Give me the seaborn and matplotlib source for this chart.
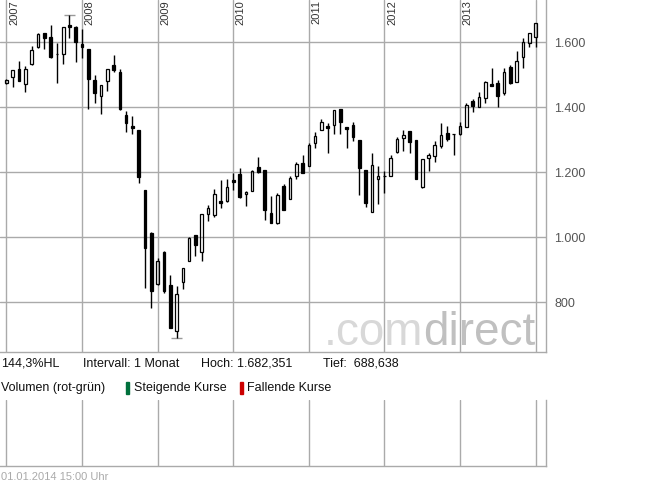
import numpy as np
import pandas as pd
import matplotlib
matplotlib.use("Agg")
import matplotlib.pyplot as plt
import matplotlib.patches as mpatches
import seaborn as sns

# monthly candles, Jan 2007 .. Jan 2014
months = pd.date_range("2007-01-01", periods=85, freq="MS")

opens = [1474, 1494, 1517, 1470, 1532, 1584, 1627, 1615, 1565, 1563, 1653, 1648,
         1594, 1578, 1484, 1435, 1480, 1530, 1509, 1376, 1342, 1330, 1145, 1014,
         855, 955, 853, 712, 861, 928, 1006, 954, 1071, 1069, 1110, 1112,
         1176, 1194, 1132, 1143, 1215, 1207, 1075, 1043, 1157, 1117, 1188, 1229,
         1220, 1289, 1330, 1343, 1345, 1394, 1338, 1345, 1299, 1207, 1078, 1178,
         1188, 1189, 1261, 1306, 1327, 1299, 1153, 1243, 1250, 1281, 1321, 1318,
         1317, 1340, 1420, 1401, 1427, 1471, 1473, 1445, 1523, 1478, 1553, 1598,
         1617]
highs = [1486, 1515, 1542, 1527, 1588, 1627, 1629, 1653, 1597, 1648, 1682.351, 1650,
         1640, 1580, 1498, 1469, 1518, 1561, 1518, 1388, 1373, 1331, 1146, 1015,
         935, 958, 884, 851, 905, 1000, 1007, 1071, 1099, 1147, 1176, 1178,
         1197, 1212, 1141, 1206, 1248, 1208, 1127, 1137, 1164, 1188, 1232, 1253,
         1289, 1323, 1364, 1350, 1392, 1396, 1340, 1353, 1300, 1208, 1260, 1219,
         1205, 1253, 1309, 1330, 1328, 1300, 1242, 1258, 1297, 1352, 1342, 1319,
         1355, 1414, 1424, 1448, 1480, 1520, 1484, 1520, 1529, 1573, 1612, 1628,
         1659]
lows = [1470, 1463, 1480, 1448, 1530, 1582, 1578, 1550, 1473, 1532, 1612, 1540,
        1550, 1393, 1414, 1378, 1451, 1509, 1392, 1325, 1317, 1168, 843, 781,
        852, 829, 721, 688.638, 840, 927, 942, 928, 1050, 1063, 1091, 1108,
        1145, 1122, 1097, 1142, 1196, 1053, 1044, 1040, 1083, 1116, 1178, 1196,
        1219, 1275, 1329, 1260, 1317, 1317, 1275, 1297, 1130, 1094, 1077, 1102,
        1137, 1188, 1260, 1266, 1260, 1178, 1150, 1205, 1232, 1275, 1296, 1253,
        1316, 1339, 1386, 1400, 1414, 1465, 1401, 1437, 1472, 1477, 1520, 1586,
        1586]
closes = [1484, 1514, 1482, 1517, 1576, 1625, 1614, 1554, 1563, 1646, 1648, 1602,
          1586, 1486, 1443, 1467, 1517, 1515, 1394, 1352, 1337, 1186, 968, 835,
          926, 834, 722, 825, 904, 999, 977, 1070, 1089, 1133, 1106, 1153,
          1171, 1123, 1140, 1205, 1200, 1084, 1045, 1130, 1084, 1181, 1225, 1197,
          1284, 1311, 1353, 1335, 1391, 1355, 1332, 1307, 1214, 1106, 1222, 1188,
          1189, 1243, 1301, 1314, 1294, 1179, 1241, 1253, 1284, 1314, 1301, 1317,
          1342, 1407, 1404, 1432, 1478, 1466, 1434, 1508, 1473, 1543, 1601, 1627,
          1658]

years = ["2007", "2008", "2009", "2010", "2011", "2012", "2013"]
price_ticks = [800, 1000, 1200, 1400, 1600]

df = pd.DataFrame({"date": months, "open": opens, "high": highs,
                   "low": lows, "close": closes})
df["x"] = np.arange(len(df))
df["top"] = df[["open", "close"]].max(axis=1)
df["bot"] = df[["open", "close"]].min(axis=1)
up = df[df["close"] >= df["open"]]
down = df[df["close"] < df["open"]]


def de_num(v, dec=0):
    s = f"{v:,.{dec}f}"
    return s.replace(",", "X").replace(".", ",").replace("X", ".")


sns.set_style("white")
plt.rcParams["font.family"] = ["Liberation Sans", "DejaVu Sans"]

W, H = 645, 483
fig = plt.figure(figsize=(W / 100, H / 100), dpi=100)
grid_c = "#aaaaaa"

# main price panel
ax = fig.add_axes([0, 1 - 352 / H, 546 / W, 352 / H])
ax.set_xlim(-1.03, 85.65)
ax.set_ylim(646.7, 1729.9)

year_idx = [12 * i for i in range(len(years) + 1)]
for xi in year_idx:
    ax.axvline(xi, color=grid_c, lw=1.0, zorder=0)
for yv in price_ticks:
    ax.axhline(yv, color=grid_c, lw=1.0, zorder=0)

# watermark (pixel position, measured from the bottom-left corner)
wm = ax.text(535, H - 345, "direct", transform=None, ha="right", va="baseline",
             fontsize=33, color="#c0c0c0", zorder=1)
fig.canvas.draw()
wx0 = wm.get_window_extent().x0
ax.text(wx0, H - 345, ".com", transform=None, ha="right", va="baseline",
        fontsize=33, color="#d8d8d8", zorder=1)

# wicks
ax.vlines(df["x"], df["top"], df["high"], color="black", lw=1.0, zorder=3)
ax.vlines(df["x"], df["low"], df["bot"], color="black", lw=1.0, zorder=3)
# bodies
ax.bar(up["x"], up["close"] - up["open"], bottom=up["open"], width=0.42,
       facecolor="none", edgecolor="black", lw=0.9, zorder=4)
ax.bar(down["x"], down["open"] - down["close"], bottom=down["close"], width=0.42,
       facecolor="black", edgecolor="black", lw=0.9, zorder=4)

# high / low markers
hi_i = df["high"].idxmax()
lo_i = df["low"].idxmin()
ax.hlines(df.loc[hi_i, "high"], hi_i - 0.85, hi_i + 0.85, color="#999999", lw=1.0, zorder=2)
ax.hlines(df.loc[lo_i, "low"], lo_i - 0.85, lo_i + 0.85, color="#999999", lw=1.0, zorder=2)

for xi, lab in zip(year_idx, years):
    ax.text(xi + 0.42, 1.0, lab, transform=ax.get_xaxis_transform(), rotation=90,
            ha="left", va="top", fontsize=8, color="#333333")

ax.set_xticks([])
ax.yaxis.tick_right()
ax.set_yticks(price_ticks)
ax.set_yticklabels([de_num(v) for v in price_ticks])
ax.tick_params(axis="y", length=0, pad=6, labelsize=9, labelcolor="#555555")
sns.despine(ax=ax, left=True, top=True, right=False)
for s in ["right", "bottom"]:
    ax.spines[s].set_color(grid_c)
    ax.spines[s].set_linewidth(1.0)

# info rows
hoch = df["high"].max()
tief = df["low"].min()
hl = (hoch - tief) / tief * 100
row1 = 1 - 364 / H
fig.text(1 / W, row1, de_num(hl, 1) + "%HL", fontsize=9, va="center", color="#111111")
fig.text(83 / W, row1, "Intervall: 1 Monat", fontsize=9, va="center", color="#111111")
fig.text(201 / W, row1, "Hoch: " + de_num(hoch, 3), fontsize=9, va="center", color="#111111")
fig.text(323 / W, row1, "Tief:  " + de_num(tief, 3), fontsize=9, va="center", color="#111111")

row2 = 1 - 388 / H
fig.text(1 / W, row2, "Volumen (rot-grün)", fontsize=9, va="center", color="#111111")
fig.patches.append(mpatches.Rectangle((126 / W, 1 - 394 / H), 3 / W, 12 / H,
                                      transform=fig.transFigure, color="#00703c"))
fig.text(134 / W, row2, "Steigende Kurse", fontsize=9, va="center", color="#111111")
fig.patches.append(mpatches.Rectangle((240 / W, 1 - 394 / H), 3 / W, 12 / H,
                                      transform=fig.transFigure, color="#cc0000"))
fig.text(247 / W, row2, "Fallende Kurse", fontsize=9, va="center", color="#111111")

# empty volume panel
vax = fig.add_axes([0, 1 - 466 / H, 546 / W, 66 / H])
vax.set_xlim(-1.03, 85.65)
vax.set_ylim(0, 1)
for xi in year_idx:
    vax.axvline(xi, color=grid_c, lw=1.0, zorder=0)
vax.set_xticks([])
vax.set_yticks([])
sns.despine(ax=vax, left=True, top=True, right=False)
for s in ["right", "bottom"]:
    vax.spines[s].set_color(grid_c)
    vax.spines[s].set_linewidth(1.0)

fig.text(1 / W, 1 - 477 / H, "01.01.2014 15:00 Uhr", fontsize=8, va="center", color="#aaaaaa")

fig.savefig("out.png", dpi=100)
